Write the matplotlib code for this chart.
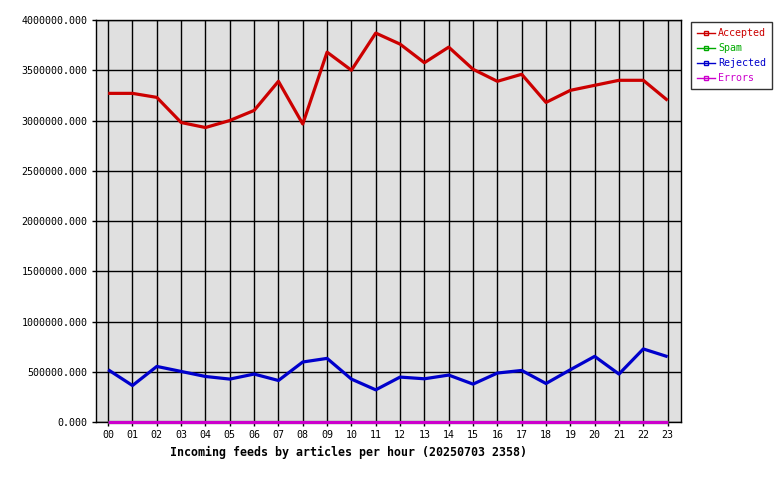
# Incoming feeds by articles per hour, innd-style chart.

import numpy as np
import matplotlib.pyplot as plt

hours = ["%02d" % h for h in range(24)]
accepted = [3270000, 3270000, 3230000, 2980000, 2930000, 3000000, 3100000, 3390000,
            2965000, 3680000, 3500000, 3870000, 3760000, 3575000, 3730000, 3510000,
            3390000, 3460000, 3180000, 3300000, 3350000, 3400000, 3400000, 3200000]
spam = [0] * 24
rejected = [520000, 363000, 553000, 503000, 453000, 427000, 477000, 413000,
            597000, 633000, 427000, 320000, 447000, 430000, 467000, 377000,
            487000, 513000, 383000, 520000, 653000, 477000, 727000, 650000]
errors = [0] * 24

series = [("Accepted", accepted, "#cc0000"),
          ("Spam", spam, "#00aa00"),
          ("Rejected", rejected, "#0000cc"),
          ("Errors", errors, "#cc00cc")]

plt.rcParams['font.family'] = 'DejaVu Sans Mono'

fig = plt.figure(figsize=(7.8, 4.8), dpi=100)
ax = fig.add_axes([96/780, 58/480, 585/780, 402/480])
ax.set_facecolor("#e0e0e0")

x = np.arange(len(hours))
for name, vals, col in series:
    ax.plot(x, vals, color=col, linewidth=2.3, solid_capstyle='butt',
            zorder=4, clip_on=False)

ax.set_xlim(-0.5, 23.55)
ax.set_ylim(0, 4000000)
ax.set_xticks(x)
ax.set_xticklabels(hours, fontsize=7.2)
yt = np.arange(0, 4000001, 500000)
ax.set_yticks(yt)
ax.set_yticklabels(["%.3f" % v for v in yt], fontsize=7.2)
ax.tick_params(length=3, width=1, color="black", pad=3)
ax.grid(True, color="black", linewidth=1, zorder=1)
ax.set_axisbelow(True)
for s in ax.spines.values():
    s.set_linewidth(1)

ax.set_xlabel("Incoming feeds by articles per hour (20250703 2358)",
              fontsize=8.4, fontweight='bold')
ax.xaxis.set_label_coords((348 - 96) / 585, -0.06)

handles = [plt.Line2D([0, 1, 2], [0, 0, 0], color=c, linewidth=1, marker='s',
                      markersize=2.5, markerfacecolor='none', markeredgecolor=c,
                      markevery=[1])
           for _, _, c in series]
leg = fig.legend(handles, [n for n, _, _ in series], loc='upper left',
                 bbox_to_anchor=(691/780, 1 - 22/480), fontsize=7.2,
                 frameon=True, fancybox=False, edgecolor="black",
                 handlelength=1.8, handletextpad=0.3, labelspacing=0.5,
                 borderpad=0.6, borderaxespad=0)
leg.get_frame().set_linewidth(1)
for t, (_, _, c) in zip(leg.get_texts(), series):
    t.set_color(c)

fig.savefig("out.png", dpi=100)
